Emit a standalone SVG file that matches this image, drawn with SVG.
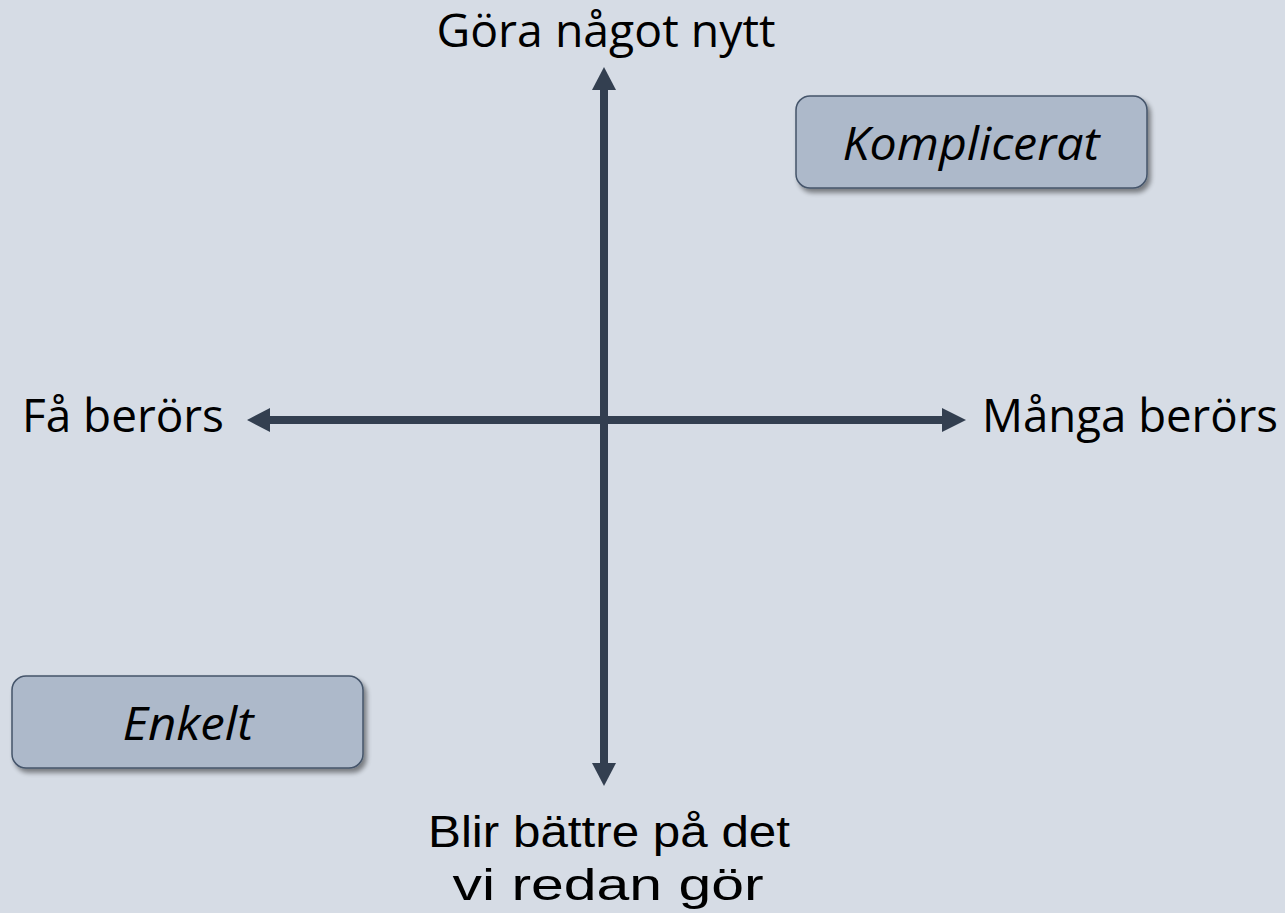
<svg xmlns="http://www.w3.org/2000/svg" width="1285" height="913" viewBox="0 0 1285 913">
<defs>
<style>
.lbl{font-family:"Open Sans","Liberation Sans",sans-serif;font-size:45px;fill:#000}
.bl{font-family:"Liberation Sans",sans-serif;font-size:45px}
.box{fill:#ADB9CA;stroke:#44546A;stroke-width:1.5}
.it{font-style:italic;text-anchor:middle}
.ax{stroke:#333F50;stroke-width:8;fill:none}
.hd{fill:#333F50}
</style>
<filter id="sh" x="-10%" y="-10%" width="130%" height="140%">
<feGaussianBlur in="SourceAlpha" stdDeviation="2.5"/>
<feOffset dx="3" dy="4" result="b"/>
<feComponentTransfer><feFuncA type="linear" slope="0.45"/></feComponentTransfer>
<feMerge><feMergeNode/><feMergeNode in="SourceGraphic"/></feMerge>
</filter>
</defs>
<rect width="1285" height="913" fill="#D6DCE5"/>
<g id="connectors">
<line class="ax" x1="604" y1="88" x2="604" y2="765"/>
<polygon class="hd" points="604,67 616,90 592,90"/>
<polygon class="hd" points="604,786 616,763 592,763"/>
<line class="ax" x1="268" y1="420" x2="944" y2="420"/>
<polygon class="hd" points="247,420 270,408 270,432"/>
<polygon class="hd" points="966,420 942,408 942,432"/>
</g>
<g id="top-label"><text class="lbl" x="606" y="47" text-anchor="middle" textLength="339" lengthAdjust="spacingAndGlyphs">Göra något nytt</text></g>
<g id="left-label"><text class="lbl" x="22" y="432" textLength="202" lengthAdjust="spacingAndGlyphs">Få berörs</text></g>
<g id="right-label"><text class="lbl" x="982" y="432" textLength="296" lengthAdjust="spacingAndGlyphs">Många berörs</text></g>
<g id="bottom-label">
<text class="lbl bl" text-anchor="middle"><tspan x="609" y="847" textLength="362" lengthAdjust="spacingAndGlyphs">Blir bättre på det</tspan><tspan x="608" y="900" textLength="311" lengthAdjust="spacingAndGlyphs">vi redan gör</tspan></text>
</g>
<g id="komplicerat">
<rect class="box" x="796" y="96" width="351" height="92" rx="14" filter="url(#sh)"/>
<text class="lbl it" x="971" y="160" textLength="257" lengthAdjust="spacingAndGlyphs">Komplicerat</text>
</g>
<g id="enkelt">
<rect class="box" x="12" y="676" width="351" height="92" rx="14" filter="url(#sh)"/>
<text class="lbl it" x="188" y="740" textLength="131" lengthAdjust="spacingAndGlyphs">Enkelt</text>
</g>
</svg>
